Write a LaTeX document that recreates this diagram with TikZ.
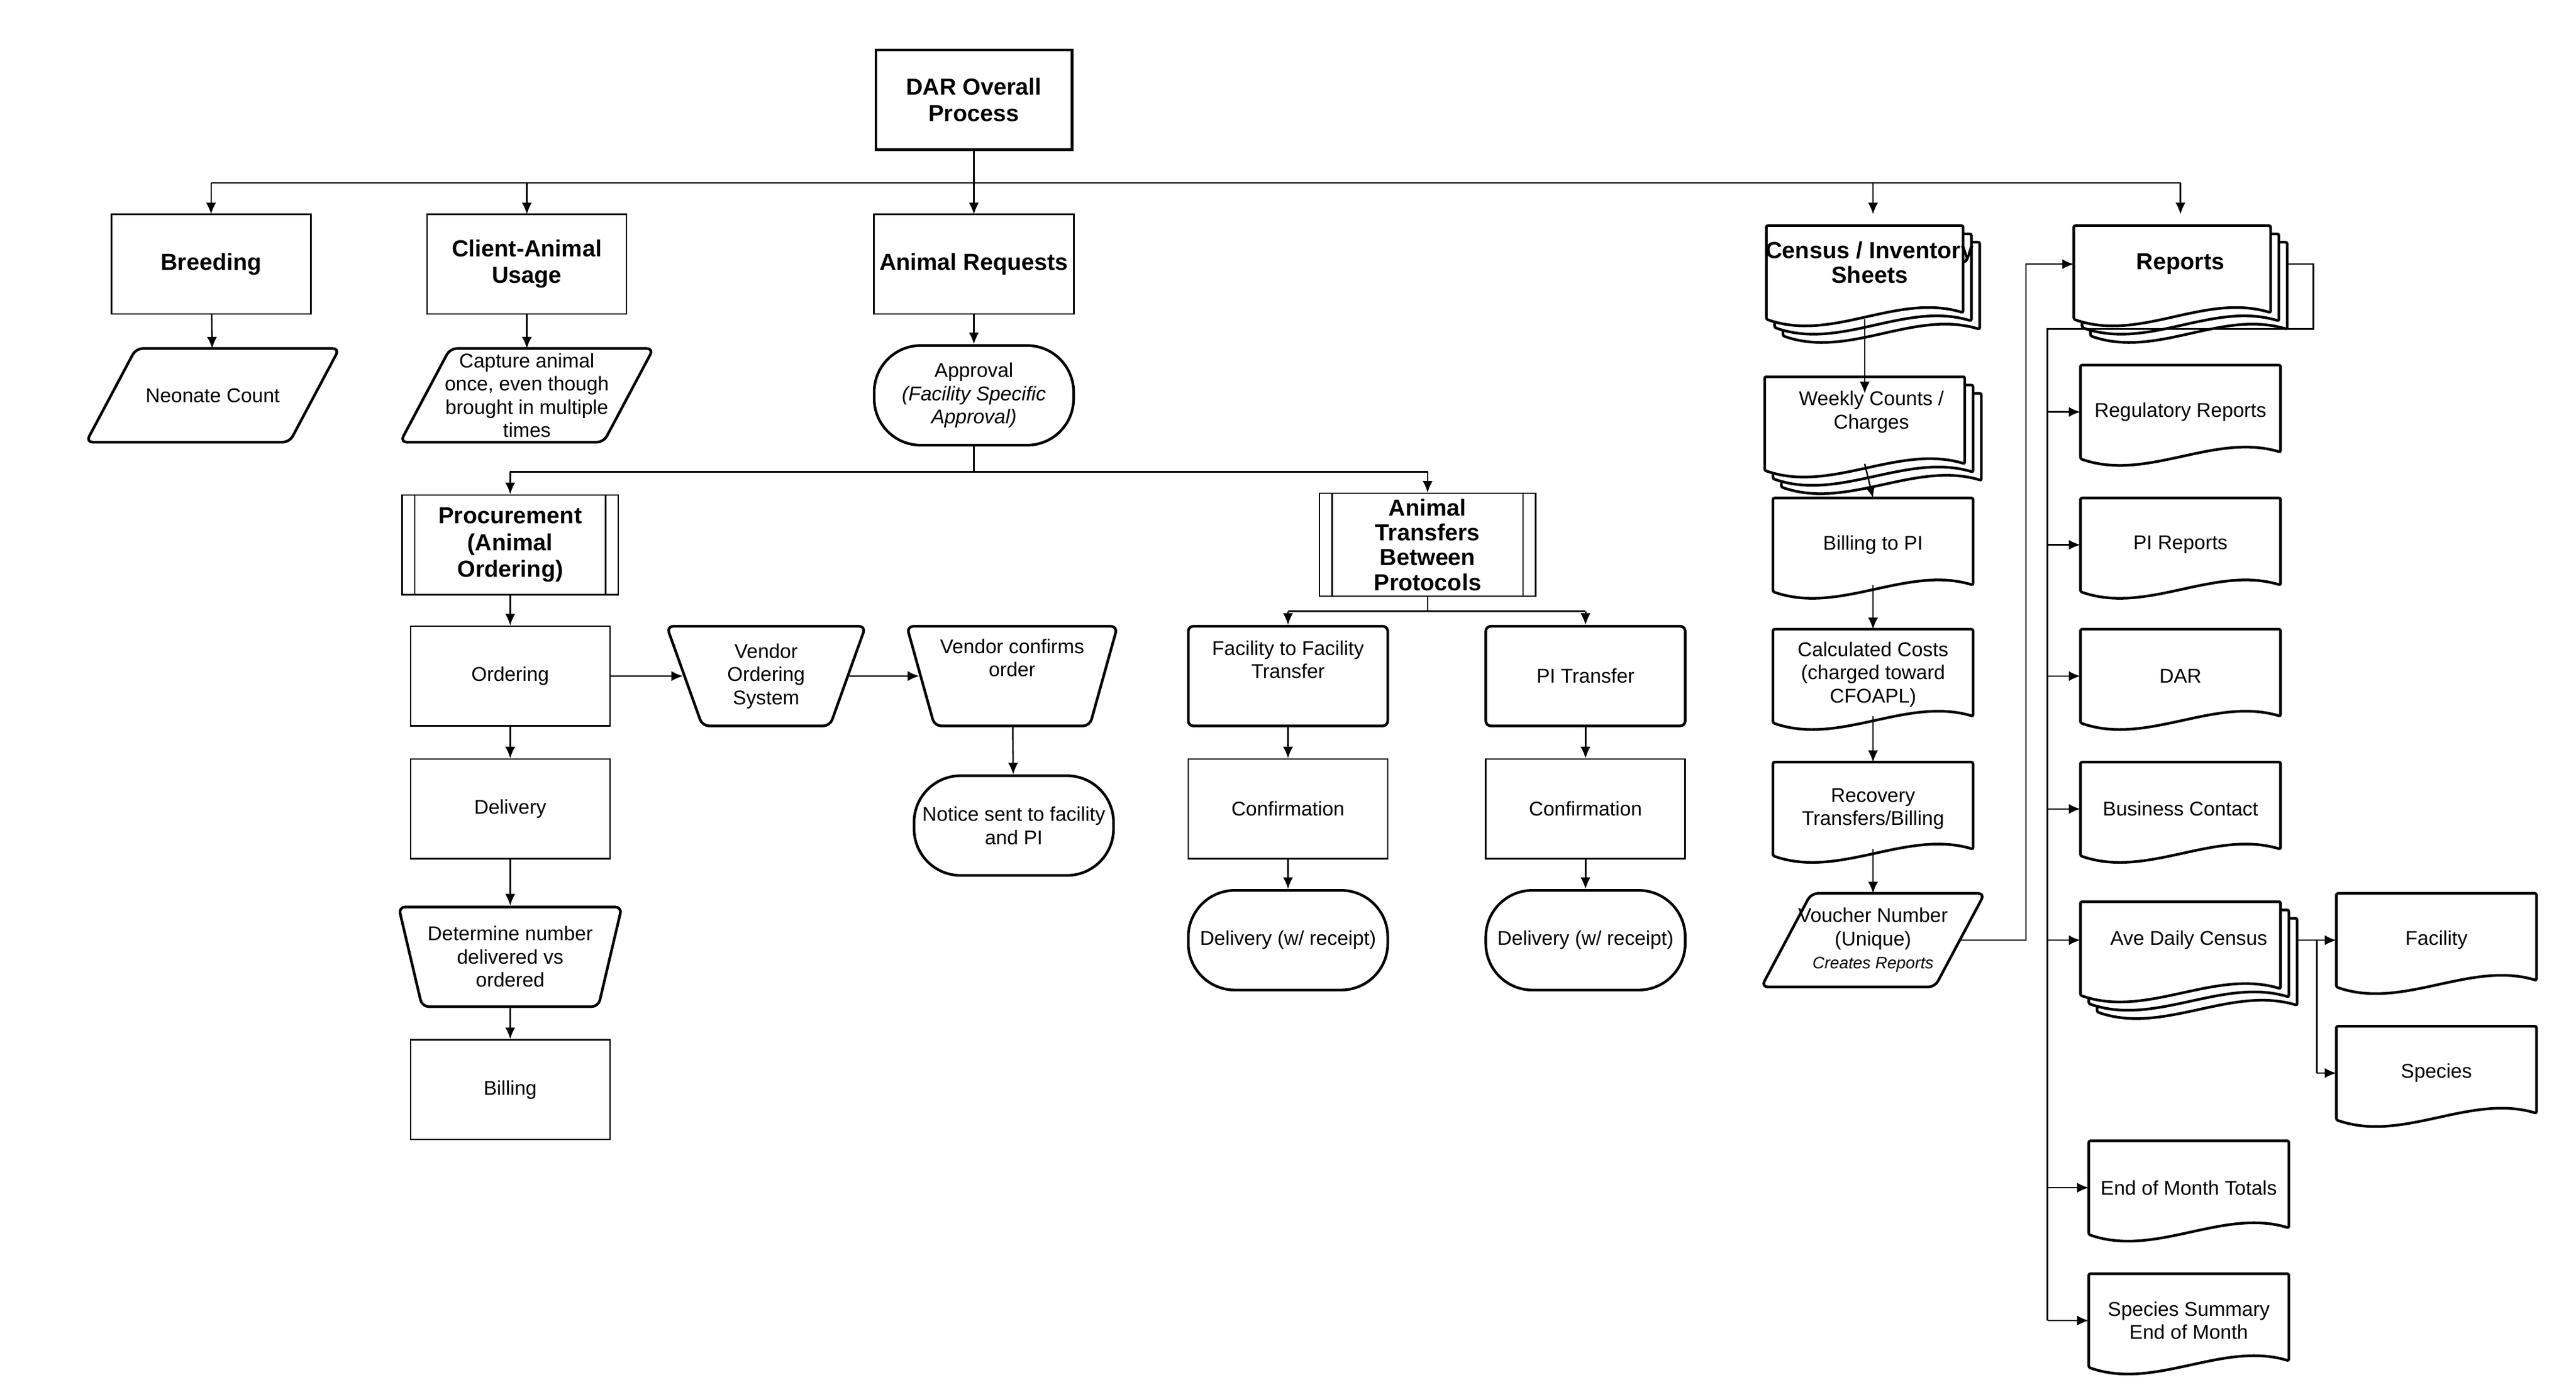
\documentclass[tikz,border=0pt]{standalone}
\usepackage{fontspec}
\setmainfont{Liberation Sans}
\usetikzlibrary{shapes.geometric,arrows.meta}
\tikzset{
 x=1pt,y=-1pt,
 box/.style={draw,line width=0.9pt,minimum width=120pt,minimum height=60pt,align=center,font=\fontsize{12}{14}\selectfont},
 tbox/.style={box,font=\fontsize{14}{16}\selectfont\bfseries},
 rbox/.style={box,line width=1.6pt,rounded corners=3pt},
 plain/.style={minimum width=120pt,minimum height=56pt,align=center,font=\fontsize{12}{14}\selectfont,inner sep=1pt},
 stad/.style={box,line width=1.6pt,rounded corners=28pt},
 trap/.style={draw,line width=1.6pt,trapezium,trapezium stretches=true,minimum width=120pt,minimum height=60pt,align=center,font=\fontsize{12}{14}\selectfont,rounded corners=4pt,trapezium left angle=72,trapezium right angle=72},
 shp/.style={line width=1.6pt,fill=white,rounded corners=1pt},
 ar/.style={-{Latex[length=7pt,width=6pt]},line width=0.9pt},
 ln/.style={line width=0.9pt},
}
\newcommand\docdraw[2]{\draw[shp] ([shift={#2}]#1.north west) -- ([shift={#2}]#1.north east) -- ([shift={#2},yshift=4pt]#1.south east) .. controls ([shift={#2},xshift=-40pt,yshift=16pt]#1.south east) and ([shift={#2},xshift=40pt,yshift=-14pt]#1.south west) .. ([shift={#2}]#1.south west) -- cycle;}
\newcommand\paradraw[1]{\draw[shp,rounded corners=4pt] ([xshift=15pt]#1.north west) -- ([xshift=15pt]#1.north east) -- ([xshift=-15pt]#1.south east) -- ([xshift=-15pt]#1.south west) -- cycle;}
\newcommand\ppdraw[1]{\draw[ln] ([xshift=8pt]#1.north west) -- ([xshift=8pt]#1.south west) ([xshift=-8pt]#1.north east) -- ([xshift=-8pt]#1.south east);}
\begin{document}
\begin{tikzpicture}
\useasboundingbox (0,0) rectangle (1550,841);
% top
\node[tbox,line width=1.6pt,minimum width=118pt] (dar) at (586,60) {DAR Overall\\Process};
\node[tbox] (breed) at (127,159) {Breeding};
\node[tbox] (client) at (317,159) {Client-Animal\\Usage};
\node[tbox] (areq) at (586,159) {Animal Requests};
\node[plain,minimum width=118pt,font=\fontsize{14}{16}\selectfont\bfseries] (cens) at (1122,164) {};
\docdraw{cens}{(10pt,-10pt)}\docdraw{cens}{(5pt,-5pt)}\docdraw{cens}{(0pt,0pt)}
\node[font=\fontsize{14}{15}\selectfont\bfseries,align=center] at (1125,158) {Census / Inventory\\Sheets};
\node[plain,minimum width=118pt] (rep) at (1307,164) {};
\docdraw{rep}{(10pt,-10pt)}\docdraw{rep}{(5pt,-5pt)}\docdraw{rep}{(0pt,0pt)}
\node[font=\fontsize{14}{16}\selectfont\bfseries] at (1312,159) {Reports};
\coordinate (busL) at (127,110);
\draw[ln] (dar.south) -- (586,110);
\draw[ln] (127,110) -- (1312,110);
\foreach \n/\x in {breed/127,client/317,areq/586,cens/1127,rep/1312}{\draw[ar] (\x,110) -- (\x,129);}
% breeding/client
\node[plain,minimum width=122pt] (neo) at (128,238) {};\paradraw{neo}\node at (neo) {\fontsize{12}{14}\selectfont Neonate Count};
\node[plain,minimum width=122pt] (cap) at (317,238) {};\paradraw{cap}\node[align=center,font=\fontsize{12}{14}\selectfont] at (cap) {Capture animal\\once, even though\\brought in multiple\\times};
\draw[ar] (breed) -- (neo);\draw[ar] (client) -- (cap);
\node[stad] (appr) at (586,238) {Approval\\\textit{(Facility Specific}\\\textit{Approval)}};
\draw[ar] (areq) -- (appr);
% procurement
\node[box,minimum width=130pt,font=\fontsize{14}{16}\selectfont\bfseries] (proc) at (307,328) {Procurement\\(Animal\\Ordering)};\ppdraw{proc}
\node[box,minimum width=130pt,font=\fontsize{14}{15}\selectfont\bfseries] (trans) at (859,328) {Animal\\Transfers\\Between\\Protocols};\ppdraw{trans}
\draw[ln] (appr.south) -- (586,284);\draw[ln] (307,284) -- (859,284);
\draw[ar] (307,284) -- (proc.north);\draw[ar] (859,284) -- (trans.north);
\node[box] (ord) at (307,407) {Ordering};
\node[box] (del) at (307,487) {Delivery};
\node[trap,shape border rotate=180] (det) at (307,576) {Determine number\\delivered vs\\ordered};
\node[box] (bill) at (307,656) {Billing};
\draw[ar] (proc) -- (ord);\draw[ar] (ord) -- (del);\draw[ar] (del) -- (det);\draw[ar] (det) -- (bill);
\node[trap,shape border rotate=180] (vos) at (461,407) {Vendor\\Ordering\\System};
\node[trap,shape border rotate=180] (vco) at (609,407) {Vendor confirms\\order\\[8pt]};
\node[stad] (notice) at (610,497) {Notice sent to facility\\and PI};
\draw[ar] (ord) -- (vos);\draw[ar] (vos) -- (vco);\draw[ar] (vco) -- (notice);
% transfers
\draw[ln] (trans.south) -- (859,368);\draw[ln] (775,368) -- (954,368);
\node[rbox] (ff) at (775,407) {Facility to Facility\\Transfer\\[6pt]};
\node[rbox] (pit) at (954,407) {PI Transfer};
\draw[ar] (775,368) -- (ff.north);\draw[ar] (954,368) -- (pit.north);
\node[box] (c1) at (775,487) {Confirmation};
\node[box] (c2) at (954,487) {Confirmation};
\node[stad] (d1) at (775,566) {Delivery (w/ receipt)};
\node[stad] (d2) at (954,566) {Delivery (w/ receipt)};
\draw[ar] (ff) -- (c1);\draw[ar] (c1) -- (d1);\draw[ar] (pit) -- (c2);\draw[ar] (c2) -- (d2);
% census chain
\node[plain] (wk) at (1122,255) {};
\docdraw{wk}{(10pt,-10pt)}\docdraw{wk}{(5pt,-5pt)}\docdraw{wk}{(0pt,0pt)}
\node[align=center,font=\fontsize{12}{14}\selectfont] at (1126,248) {Weekly Counts /\\Charges};
\node[plain] (bpi) at (1127,328) {};\docdraw{bpi}{(0pt,0pt)}\node[font=\fontsize{12}{14}\selectfont] at (1127,328) {Billing to PI};
\node[plain] (cc) at (1127,407) {};\docdraw{cc}{(0pt,0pt)}\node[align=center,font=\fontsize{12}{14}\selectfont] at (1127,406) {Calculated Costs\\(charged toward\\CFOAPL)};
\node[plain] (rec) at (1127,487) {};\docdraw{rec}{(0pt,0pt)}\node[align=center,font=\fontsize{12}{14}\selectfont] at (1127,487) {Recovery\\Transfers/Billing};
\node[plain,minimum width=104pt] (vou) at (1127,566) {};\paradraw{vou}
\node[align=center,font=\fontsize{12}{14}\selectfont] at (1127,566) {Voucher Number\\(Unique)\\\fontsize{10}{12}\selectfont\itshape Creates Reports};
\draw[ar] (cens.south) -- ([yshift=-10pt]wk.north);
\draw[ar] ([yshift=4pt]wk.south) -- (bpi.north);
\draw[ar] ([yshift=4pt]bpi.south) -- (cc.north);
\draw[ar] ([yshift=4pt]cc.south) -- (rec.north);
\draw[ar] ([yshift=4pt]rec.south) -- (vou.north);
\draw[ar] (vou.east) -- (1219,566) -- (1219,159) -- (rep.west|-1219,159);
% reports
\draw[ln] (1377,159) -- (1392,159) -- (1392,198) -- (1232,198) -- (1232,795);
\foreach \n/\y/\t/\xx in {rg/248/Regulatory Reports/1312,pr/328/PI Reports/1312,dr/407/DAR/1312,bc/487/Business Contact/1312,em/715/End of Month Totals/1317}{
 \node[plain] (\n) at (\xx,\y) {};\docdraw{\n}{(0pt,0pt)}\node[font=\fontsize{12}{14}\selectfont] at (\xx,\y) {\t};
 \draw[ar] (1232,\y) -- (\n.west);}
\node[plain] (ss) at (1317,795) {};\docdraw{ss}{(0pt,0pt)}\node[align=center,font=\fontsize{12}{14}\selectfont] at (1317,795) {Species Summary\\End of Month};
\draw[ar] (1232,795) -- (ss.west);
\node[plain] (adc) at (1312,571) {};
\docdraw{adc}{(10pt,-10pt)}\docdraw{adc}{(5pt,-5pt)}\docdraw{adc}{(0pt,0pt)}
\node[font=\fontsize{12}{14}\selectfont] at (1317,566) {Ave Daily Census};
\draw[ar] (1232,566) -- (adc.west|-1232,566);
\node[plain] (fac) at (1466,566) {};\docdraw{fac}{(0pt,0pt)}\node[font=\fontsize{12}{14}\selectfont] at (1466,566) {Facility};
\node[plain] (spc) at (1466,646) {};\docdraw{spc}{(0pt,0pt)}\node[font=\fontsize{12}{14}\selectfont] at (1466,646) {Species};
\draw[ar] (1382,566) -- (fac.west);
\draw[ln] (1394,566) -- (1394,646);\draw[ar] (1394,646) -- (spc.west);
\end{tikzpicture}
\end{document}
